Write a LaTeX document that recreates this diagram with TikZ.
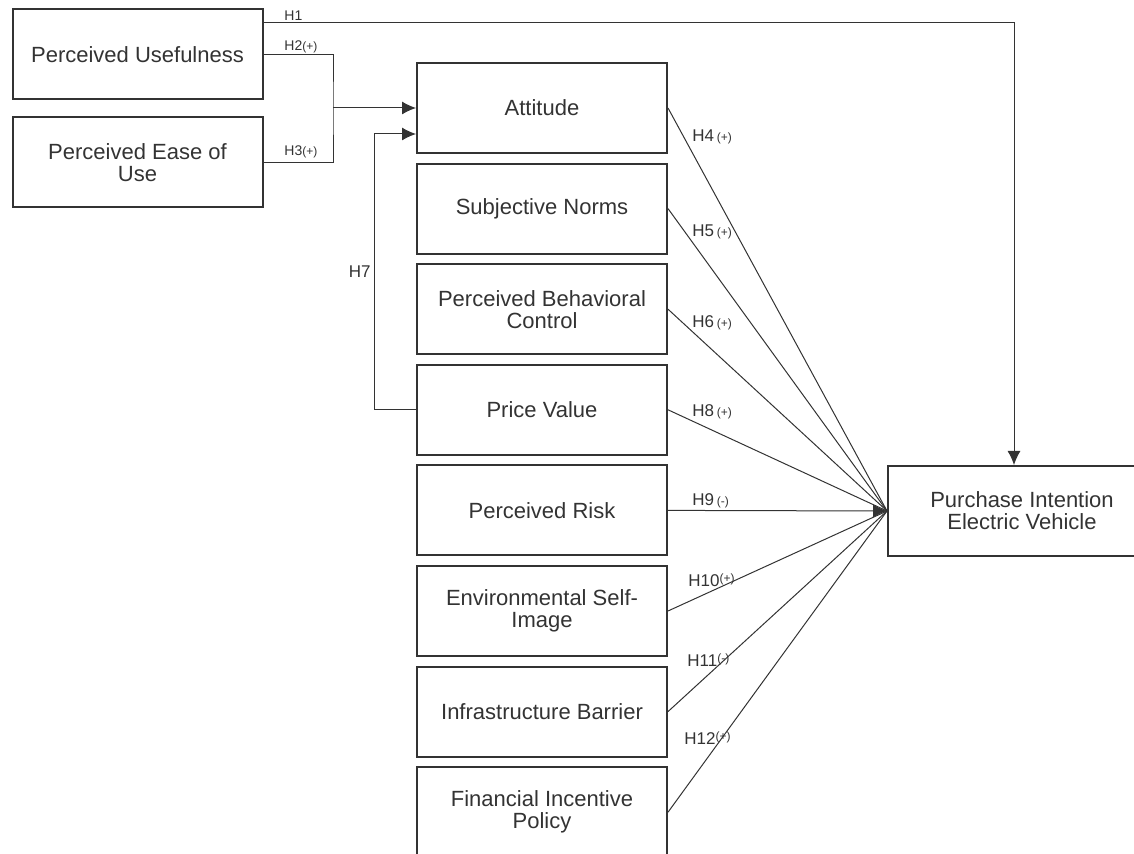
\documentclass[tikz,border=0pt]{standalone}
\usepackage{fontspec}
\setmainfont{Liberation Sans}
\usetikzlibrary{arrows.meta,calc}
\definecolor{ink}{HTML}{333333}
\newcommand{\sgn}[1]{{\fontsize{6}{6}\selectfont(#1)}}

\begin{document}
\begin{tikzpicture}[x=0.5pt,y=-0.5pt,>={Latex[length=7pt,width=6.5pt]},
  box/.style={draw=ink,line width=1pt,minimum width=125pt,minimum height=45pt,
    align=center,text=ink,font=\fontsize{11}{11}\selectfont,inner sep=0pt},
  link/.style={draw=ink,line width=0.5pt},
  lbl/.style={text=ink,font=\fontsize{8.5}{8.5}\selectfont,inner sep=0pt},
  lblsm/.style={text=ink,font=\fontsize{7}{7}\selectfont,inner sep=0pt}]
\useasboundingbox (0,0) rectangle (1134,854);
\clip (0,0) rectangle (1134,854);

% antecedents of attitude
\node[box] (pu) at (137.5,54.5) {Perceived Usefulness};
\node[box] (peu) at (137.5,162.5) {Perceived Ease of\\Use};

% column of constructs
\foreach \nm/\txt [count=\i from 0] in {att/Attitude, sn/Subjective Norms,
    pbc/{Perceived Behavioral\\Control}, pv/Price Value, pr/Perceived Risk,
    esi/{Environmental Self-\\Image}, ib/Infrastructure Barrier,
    fip/{Financial Incentive\\Policy}}
  \node[box] (\nm) at (542,108+100.6*\i) {\txt};

\node[box,minimum width=134pt] (pi) at (1022,511) {Purchase Intention\\Electric Vehicle};

% H1 -- H3, H7
\coordinate (join) at (333,108);
\draw[link,->] ($(pu.north east)+(0,14)$) -| ($(pi.north)+(-8,0)$);
\draw[link] (pu.east) -| (join) |- (peu.east);
\draw[link,->] (join) -- (att.west);
\draw[link,->] (pv.west) -- ++(-42,0) |- node[pos=0.25,lbl,left=1.5pt] (h7) {H7}
  ($(att.west)+(0,26)$);
\node[lblsm,anchor=west] (h1) at (284,16) {H1};
\node[lblsm,anchor=west] (h2) at (284,47) {H2\sgn{+}};
\node[lblsm,anchor=west] (h3) at (284,152) {H3\sgn{+}};

% fan into purchase intention
\foreach \nm in {att,sn,pbc,pv,esi,ib,fip}
  \draw[link] (\nm.east) -- (pi.west);
\draw[link,->] (pr.east) -- (pi.west);

\node[lbl,anchor=west] (h4) at (692,137) {H4\,\sgn{+}};
\node[lbl,anchor=west] (h5) at (692,232) {H5\,\sgn{+}};
\node[lbl,anchor=west] (h6) at (692,323) {H6\,\sgn{+}};
\node[lbl,anchor=west] (h8) at (692,412) {H8\,\sgn{+}};
\node[lbl,anchor=west] (h9) at (692,501) {H9\,\sgn{-}};
\node[lbl,anchor=west] (h10) at (688,580) {H10\raisebox{2pt}{\sgn{+}}};
\node[lbl,anchor=west] (h11) at (687,660) {H11\raisebox{2pt}{\sgn{-}}};
\node[lbl,anchor=west] (h12) at (684,738) {H12\raisebox{2pt}{\sgn{+}}};
\end{tikzpicture}
\end{document}
